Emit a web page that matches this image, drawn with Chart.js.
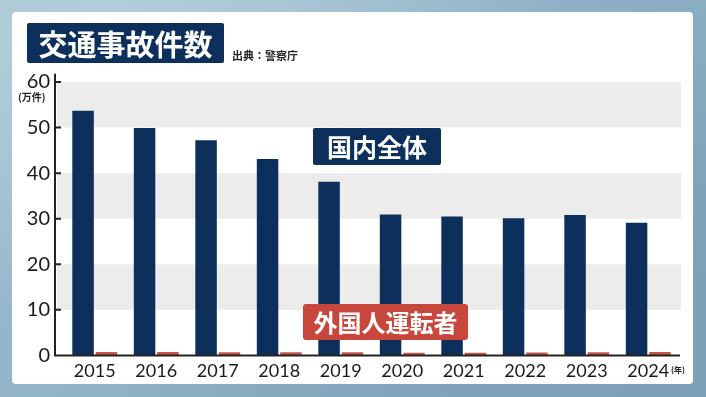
<!DOCTYPE html>
<html lang="ja">
<head>
<meta charset="utf-8">
<script src="https://cdn.jsdelivr.net/npm/chart.js@4"></script>
<style>
  html, body { margin:0; padding:0; }
  body {
    width:706px; height:397px; overflow:hidden; position:relative;
    background:
      radial-gradient(ellipse at 15% 10%, #b4cfdb 0%, rgba(180,207,219,0) 55%),
      radial-gradient(ellipse at 90% 80%, #7d9fb6 0%, rgba(125,159,182,0) 60%),
      linear-gradient(135deg, #9fbfcf 0%, #8fb1c5 50%, #7fa2b8 100%);
  }
  #panel { position:absolute; left:12px; top:12px; width:681px; height:372px; background:#fff; border-radius:4px; }
  #wrap { position:absolute; left:0; top:0; width:706px; height:397px; }
  .jp { font-family:"Noto Sans CJK JP", sans-serif; font-weight:700; position:absolute; white-space:nowrap; }
  #title { left:27px; top:23px; width:197px; height:40px; background:#0c2f5c; color:#fff; font-size:29px; line-height:40px; text-align:center; border-radius:2px; }
  #src { left:232px; top:47px; font-size:11px; color:#222; }
  #unit { left:18px; top:89px; font-size:10px; color:#222; }
  #year { left:671px; top:364px; font-size:8px; color:#222; }
  #lblAll { left:313px; top:128px; width:128px; height:37px; background:#0c2f5c; color:#fff; font-size:25px; line-height:37px; text-align:center; border-radius:2px; }
  #lblFor { left:303px; top:304px; width:165px; height:36px; background:#c8473d; color:#fff; font-size:24px; line-height:36px; text-align:center; border-radius:3px; }
</style>
</head>
<body>
<div id="panel"></div>
<div id="wrap"><canvas id="chart" width="706" height="397"></canvas></div>
<div class="jp" id="title">交通事故件数</div>
<div class="jp" id="src">出典：警察庁</div>
<div class="jp" id="unit">(万件)</div>
<div class="jp" id="year">(年)</div>
<div class="jp" id="lblAll">国内全体</div>
<div class="jp" id="lblFor">外国人運転者</div>
<script>
const YEARS = ['2015','2016','2017','2018','2019','2020','2021','2022','2023','2024'];
const TOTAL = [53.7, 49.9, 47.2, 43.1, 38.1, 30.9, 30.5, 30.1, 30.8, 29.1];   // 万件, 国内全体
const FOREIGN = [0.73, 0.72, 0.70, 0.70, 0.68, 0.60, 0.58, 0.63, 0.71, 0.74]; // 万件, 外国人運転者
const Y_TICKS = [0, 10, 20, 30, 40, 50, 60];

const NAVY = '#0c2f5c';
const RED = '#c6564a';

// gray bands + axis lines drawn from the scales
const bands = {
  id: 'bands',
  beforeDatasetsDraw(chart) {
    const { ctx, chartArea, scales } = chart;
    const y = scales.y;
    const left = chartArea.left - 7, right = chartArea.right + 2;
    ctx.save();
    ctx.fillStyle = '#ececec';
    for (let i = 1; i < Y_TICKS.length; i += 2) {
      const top = y.getPixelForValue(Y_TICKS[i + 1] ?? Y_TICKS[i]);
      const bot = y.getPixelForValue(Y_TICKS[i]);
      ctx.fillRect(left, top, right - left, bot - top);
    }
    ctx.restore();
  },
  afterDatasetsDraw(chart) {
    const { ctx, chartArea, scales } = chart;
    const y = scales.y;
    const ax = chartArea.left - 9;
    ctx.save();
    ctx.strokeStyle = '#222';
    ctx.lineWidth = 2;
    ctx.beginPath();
    ctx.moveTo(ax, y.getPixelForValue(61.8));
    ctx.lineTo(ax, y.getPixelForValue(0));
    ctx.lineTo(chartArea.right + 1, y.getPixelForValue(0));
    Y_TICKS.forEach(v => {
      if (v === 0) return;
      const py = y.getPixelForValue(v);
      ctx.moveTo(ax, py);
      ctx.lineTo(ax + 6, py);
    });
    ctx.stroke();
    ctx.restore();
  }
};

new Chart(document.getElementById('chart'), {
  type: 'bar',
  data: {
    labels: YEARS,
    datasets: [
      { label: '国内全体', data: TOTAL, backgroundColor: NAVY, barPercentage: 0.92, categoryPercentage: 0.76 },
      { label: '外国人運転者', data: FOREIGN, backgroundColor: RED, barPercentage: 0.92, categoryPercentage: 0.76 }
    ]
  },
  options: {
    responsive: false,
    animation: false,
    layout: { padding: { left: 20, right: 27, top: 82, bottom: 10 } },
    plugins: { legend: { display: false }, tooltip: { enabled: false } },
    scales: {
      x: {
        grid: { display: false, drawTicks: false },
        border: { display: false },
        ticks: { color: '#1a1a1a', padding: 5, font: { family: 'Lato', size: 18 } }
      },
      y: {
        min: 0, max: 60,
        afterFit: s => { s.width = 44; },
        afterBuildTicks: s => { s.ticks = Y_TICKS.map(v => ({ value: v })); },
        grid: { display: false, drawTicks: false },
        border: { display: false },
        ticks: { color: '#1a1a1a', padding: 14, font: { family: 'Lato', size: 20 } }
      }
    }
  },
  plugins: [bands]
});
</script>
</body>
</html>
